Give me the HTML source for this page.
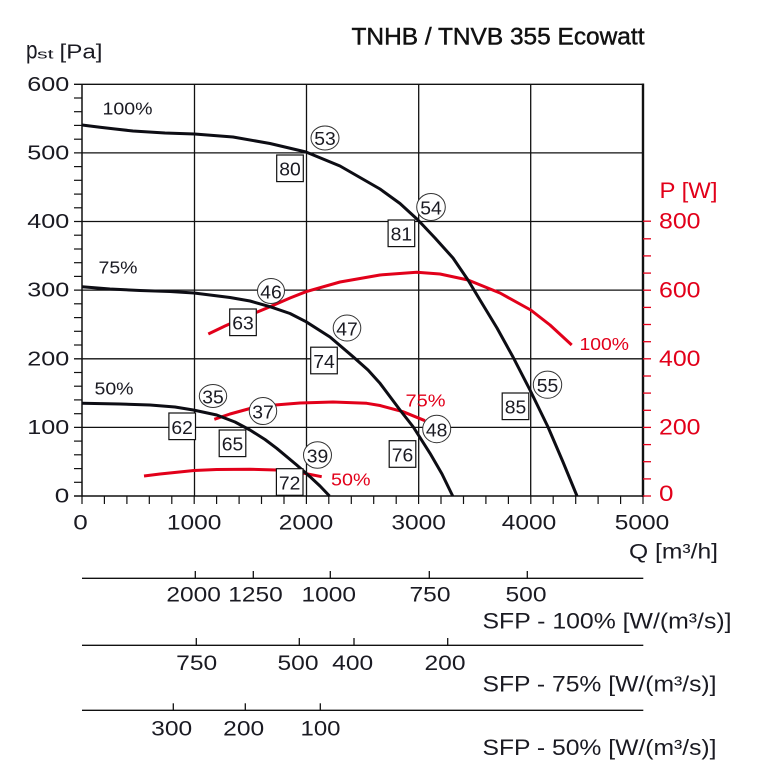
<!DOCTYPE html>
<html><head><meta charset="utf-8"><style>
html,body{margin:0;padding:0;background:#fff;}
svg{display:block;font-family:"Liberation Sans",Arial,sans-serif;}
</style></head><body>
<svg width="757" height="783" viewBox="0 0 757 783" xmlns="http://www.w3.org/2000/svg">
<rect width="757" height="783" fill="#fff"/>
<!-- grid -->
<g stroke="#111" stroke-width="1.3" fill="none">
<line x1="74" y1="84.3" x2="643" y2="84.3"/>
<line x1="74" y1="152.9" x2="643" y2="152.9"/>
<line x1="74" y1="221.5" x2="643" y2="221.5"/>
<line x1="74" y1="290.1" x2="643" y2="290.1"/>
<line x1="74" y1="358.8" x2="643" y2="358.8"/>
<line x1="74" y1="427.4" x2="643" y2="427.4"/>
<line x1="194.5" y1="84.3" x2="194.5" y2="496"/>
<line x1="306.5" y1="84.3" x2="306.5" y2="496"/>
<line x1="418.7" y1="84.3" x2="418.7" y2="496"/>
<line x1="530.7" y1="84.3" x2="530.7" y2="496"/>
<line x1="82" y1="84" x2="82" y2="496.7" stroke-width="1.5"/>
<line x1="74" y1="496" x2="643" y2="496" stroke-width="1.5"/>
</g>
<line x1="643" y1="83.5" x2="643" y2="497" stroke="#111" stroke-width="2.4"/>
<!-- left minor ticks -->
<g stroke="#111" stroke-width="1.2">
<line x1="74" y1="98" x2="82" y2="98"/><line x1="74" y1="111.7" x2="82" y2="111.7"/><line x1="74" y1="125.4" x2="82" y2="125.4"/><line x1="74" y1="139.2" x2="82" y2="139.2"/>
<line x1="74" y1="166.6" x2="82" y2="166.6"/><line x1="74" y1="180.3" x2="82" y2="180.3"/><line x1="74" y1="194.1" x2="82" y2="194.1"/><line x1="74" y1="207.8" x2="82" y2="207.8"/>
<line x1="74" y1="235.2" x2="82" y2="235.2"/><line x1="74" y1="249" x2="82" y2="249"/><line x1="74" y1="262.7" x2="82" y2="262.7"/><line x1="74" y1="276.4" x2="82" y2="276.4"/>
<line x1="74" y1="303.8" x2="82" y2="303.8"/><line x1="74" y1="317.6" x2="82" y2="317.6"/><line x1="74" y1="331.3" x2="82" y2="331.3"/><line x1="74" y1="345" x2="82" y2="345"/>
<line x1="74" y1="372.5" x2="82" y2="372.5"/><line x1="74" y1="386.2" x2="82" y2="386.2"/><line x1="74" y1="399.9" x2="82" y2="399.9"/><line x1="74" y1="413.7" x2="82" y2="413.7"/>
<line x1="74" y1="441.1" x2="82" y2="441.1"/><line x1="74" y1="454.8" x2="82" y2="454.8"/><line x1="74" y1="468.6" x2="82" y2="468.6"/><line x1="74" y1="482.3" x2="82" y2="482.3"/>
</g>
<!-- bottom ticks -->
<g stroke="#111" stroke-width="1.2">
<line x1="82" y1="496" x2="82" y2="504"/><line x1="104.4" y1="496" x2="104.4" y2="504"/><line x1="126.9" y1="496" x2="126.9" y2="504"/><line x1="149.3" y1="496" x2="149.3" y2="504"/><line x1="171.8" y1="496" x2="171.8" y2="504"/>
<line x1="194.2" y1="496" x2="194.2" y2="504"/><line x1="216.6" y1="496" x2="216.6" y2="504"/><line x1="239.1" y1="496" x2="239.1" y2="504"/><line x1="261.5" y1="496" x2="261.5" y2="504"/><line x1="284" y1="496" x2="284" y2="504"/>
<line x1="306.4" y1="496" x2="306.4" y2="504"/><line x1="328.8" y1="496" x2="328.8" y2="504"/><line x1="351.3" y1="496" x2="351.3" y2="504"/><line x1="373.7" y1="496" x2="373.7" y2="504"/><line x1="396.2" y1="496" x2="396.2" y2="504"/>
<line x1="418.6" y1="496" x2="418.6" y2="504"/><line x1="441" y1="496" x2="441" y2="504"/><line x1="463.5" y1="496" x2="463.5" y2="504"/><line x1="485.9" y1="496" x2="485.9" y2="504"/><line x1="508.4" y1="496" x2="508.4" y2="504"/>
<line x1="530.8" y1="496" x2="530.8" y2="504"/><line x1="553.2" y1="496" x2="553.2" y2="504"/><line x1="575.7" y1="496" x2="575.7" y2="504"/><line x1="598.1" y1="496" x2="598.1" y2="504"/><line x1="620.6" y1="496" x2="620.6" y2="504"/>
<line x1="643" y1="496" x2="643" y2="504"/>
</g>
<!-- red right ticks -->
<g stroke="#e2001a" stroke-width="1.3">
<line x1="643" y1="496" x2="651" y2="496"/><line x1="643" y1="478.9" x2="651" y2="478.9"/><line x1="643" y1="461.7" x2="651" y2="461.7"/><line x1="643" y1="444.6" x2="651" y2="444.6"/>
<line x1="643" y1="427.4" x2="651" y2="427.4"/><line x1="643" y1="410.3" x2="651" y2="410.3"/><line x1="643" y1="393.1" x2="651" y2="393.1"/><line x1="643" y1="376" x2="651" y2="376"/>
<line x1="643" y1="358.8" x2="651" y2="358.8"/><line x1="643" y1="341.7" x2="651" y2="341.7"/><line x1="643" y1="324.5" x2="651" y2="324.5"/><line x1="643" y1="307.4" x2="651" y2="307.4"/>
<line x1="643" y1="290.2" x2="651" y2="290.2"/><line x1="643" y1="273.1" x2="651" y2="273.1"/><line x1="643" y1="255.9" x2="651" y2="255.9"/><line x1="643" y1="238.8" x2="651" y2="238.8"/>
<line x1="643" y1="221.2" x2="651" y2="221.2"/>
</g>
<!-- curves -->
<g fill="none" stroke-linejoin="round" stroke-linecap="butt" stroke-width="3">
<polyline stroke="#e2001a" points="208.3,334 225,326 243,318 270,306.7 290,298 306,291.7 340,282 380,275 416.7,272.3 440,274 468,280 500,293 530.7,310 550,325 571.7,345"/>
<polyline stroke="#e2001a" points="214.3,419.3 230,414 250,408.5 275,405 300,403 333,402 366.7,403.3 380,405.5 403,411.7 425,420.7"/>
<polyline stroke="#e2001a" points="144,476 160,474 194,470.5 216.7,469.5 250,469.3 276.7,470 300,472.5 321.7,476.7"/>
<polyline stroke="#0d0d14" points="82,125 100,127.3 133,131 165,133 194.5,134 233,137 270,143.5 306,152 340,166 380,189 400,203.5 418,220 435,238 453,258 468,280 480,300 497,328 513,357 530,390 548,427 563,462 577,496"/>
<polyline stroke="#0d0d14" points="82,286.7 110,289 140,290.5 170,291.5 194,293 230,297.5 250,301 270,306.7 290,313.5 306,321.7 330,337 353,356.7 368,370 380,383.3 400,410 413.3,427 430,453.3 442,474 452.7,496"/>
<polyline stroke="#0d0d14" points="82,403.3 120,404 150,405 175,407 193.3,410 216.7,415 235,422 250,430 265,439.5 276.7,448.3 296.7,465 310,476.7 320,486 329.5,496"/>
</g>
<!-- boxes -->
<g fill="#fff" stroke="#111" stroke-width="1.2">
<rect x="276.7" y="155" width="26.6" height="26.6"/>
<rect x="388.1" y="220" width="26.6" height="26.6"/>
<rect x="229.7" y="309" width="26.6" height="26.6"/>
<rect x="310.7" y="347.2" width="26.6" height="26.6"/>
<rect x="168.9" y="413" width="26.6" height="26.6"/>
<rect x="219.2" y="430" width="26.6" height="26.6"/>
<rect x="276.4" y="468.7" width="26.6" height="26.6"/>
<rect x="389.2" y="440.7" width="26.6" height="26.6"/>
<rect x="502.2" y="393" width="26.6" height="26.6"/>
</g>
<!-- circles -->
<g fill="#fff" stroke="#333" stroke-width="1">
<ellipse cx="325" cy="138" rx="14" ry="12"/>
<ellipse cx="431" cy="207" rx="14.3" ry="13.5"/>
<ellipse cx="271" cy="291" rx="13.5" ry="12.5"/>
<ellipse cx="347" cy="328" rx="13.8" ry="13"/>
<ellipse cx="213" cy="396" rx="13.7" ry="11.5"/>
<ellipse cx="263" cy="411" rx="13.7" ry="13.5"/>
<ellipse cx="317.5" cy="455" rx="14" ry="13.3"/>
<ellipse cx="436.7" cy="429" rx="14" ry="13.7"/>
<ellipse cx="547.5" cy="384.7" rx="14.2" ry="13.6"/>
</g>
<!-- numbers in markers -->
<g fill="#1a1a22" font-size="18.5" text-anchor="middle">
<text x="325" y="145" textLength="21.5" lengthAdjust="spacingAndGlyphs">53</text>
<text x="431" y="214.3" textLength="21.5" lengthAdjust="spacingAndGlyphs">54</text>
<text x="271" y="298.3" textLength="21.5" lengthAdjust="spacingAndGlyphs">46</text>
<text x="347" y="335.3" textLength="21.5" lengthAdjust="spacingAndGlyphs">47</text>
<text x="213" y="403.3" textLength="21.5" lengthAdjust="spacingAndGlyphs">35</text>
<text x="263" y="418.3" textLength="21.5" lengthAdjust="spacingAndGlyphs">37</text>
<text x="317.5" y="462.3" textLength="21.5" lengthAdjust="spacingAndGlyphs">39</text>
<text x="436.7" y="436.3" textLength="21.5" lengthAdjust="spacingAndGlyphs">48</text>
<text x="547.5" y="392" textLength="21.5" lengthAdjust="spacingAndGlyphs">55</text>
<text x="290" y="175.6" textLength="21.5" lengthAdjust="spacingAndGlyphs">80</text>
<text x="401.4" y="240.6" textLength="21.5" lengthAdjust="spacingAndGlyphs">81</text>
<text x="243" y="329.6" textLength="21.5" lengthAdjust="spacingAndGlyphs">63</text>
<text x="324" y="367.8" textLength="21.5" lengthAdjust="spacingAndGlyphs">74</text>
<text x="182.2" y="434" textLength="21.5" lengthAdjust="spacingAndGlyphs">62</text>
<text x="232.5" y="450.7" textLength="21.5" lengthAdjust="spacingAndGlyphs">65</text>
<text x="289.7" y="489.3" textLength="21.5" lengthAdjust="spacingAndGlyphs">72</text>
<text x="402.5" y="461.3" textLength="21.5" lengthAdjust="spacingAndGlyphs">76</text>
<text x="515.5" y="413.6" textLength="21.5" lengthAdjust="spacingAndGlyphs">85</text>
</g>
<!-- title -->
<text x="351.5" y="44.3" font-size="24" fill="#111" stroke="#111" stroke-width="0.45" textLength="293" lengthAdjust="spacingAndGlyphs">TNHB / TNVB 355 Ecowatt</text>
<!-- y axis label -->
<g fill="#1a1a22">
<text x="26" y="58.3" font-size="25" textLength="11.5" lengthAdjust="spacingAndGlyphs">p</text>
<text x="37" y="58.3" font-size="13" textLength="16.5" lengthAdjust="spacingAndGlyphs">st</text>
<text x="59.5" y="58.3" font-size="20" textLength="43" lengthAdjust="spacingAndGlyphs">[Pa]</text>
</g>
<!-- left tick labels -->
<g fill="#1a1a22" font-size="20.5" text-anchor="end">
<text x="69.3" y="90.8" textLength="42" lengthAdjust="spacingAndGlyphs">600</text>
<text x="69.3" y="159.4" textLength="42" lengthAdjust="spacingAndGlyphs">500</text>
<text x="69.3" y="228" textLength="42" lengthAdjust="spacingAndGlyphs">400</text>
<text x="69.3" y="296.7" textLength="42" lengthAdjust="spacingAndGlyphs">300</text>
<text x="69.3" y="365.3" textLength="42" lengthAdjust="spacingAndGlyphs">200</text>
<text x="69.3" y="434" textLength="42" lengthAdjust="spacingAndGlyphs">100</text>
<text x="69.3" y="502.7" textLength="14.5" lengthAdjust="spacingAndGlyphs">0</text>
</g>
<!-- bottom tick labels -->
<g fill="#1a1a22" font-size="21.5" text-anchor="middle">
<text x="80.5" y="529.5" textLength="14.5" lengthAdjust="spacingAndGlyphs">0</text>
<text x="194.2" y="529.5" textLength="54.5" lengthAdjust="spacingAndGlyphs">1000</text>
<text x="306" y="529.5" textLength="54.5" lengthAdjust="spacingAndGlyphs">2000</text>
<text x="418.7" y="529.5" textLength="54.5" lengthAdjust="spacingAndGlyphs">3000</text>
<text x="529" y="529.5" textLength="54.5" lengthAdjust="spacingAndGlyphs">4000</text>
<text x="642" y="529.5" textLength="54.5" lengthAdjust="spacingAndGlyphs">5000</text>
</g>
<text x="629" y="558.3" font-size="21" fill="#1a1a22" textLength="89" lengthAdjust="spacingAndGlyphs">Q [m³/h]</text>
<!-- right red labels -->
<g fill="#e2001a" font-size="22">
<text x="659.5" y="198" textLength="58" lengthAdjust="spacingAndGlyphs">P [W]</text>
<text x="659" y="228.3" textLength="41.5" lengthAdjust="spacingAndGlyphs">800</text>
<text x="659" y="297.3" textLength="41.5" lengthAdjust="spacingAndGlyphs">600</text>
<text x="659" y="366" textLength="41.5" lengthAdjust="spacingAndGlyphs">400</text>
<text x="659" y="434.5" textLength="41.5" lengthAdjust="spacingAndGlyphs">200</text>
<text x="659" y="501" textLength="14.5" lengthAdjust="spacingAndGlyphs">0</text>
</g>
<!-- percent labels -->
<g fill="#1a1a22" font-size="17.5">
<text x="102.5" y="114.3" textLength="50" lengthAdjust="spacingAndGlyphs">100%</text>
<text x="98.5" y="273.3" textLength="39" lengthAdjust="spacingAndGlyphs">75%</text>
<text x="94.5" y="394.3" textLength="39" lengthAdjust="spacingAndGlyphs">50%</text>
</g>
<g fill="#e2001a" font-size="17.5">
<text x="579.5" y="350" textLength="49.5" lengthAdjust="spacingAndGlyphs">100%</text>
<text x="405.5" y="406.7" textLength="40" lengthAdjust="spacingAndGlyphs">75%</text>
<text x="331" y="485.7" textLength="39.5" lengthAdjust="spacingAndGlyphs">50%</text>
</g>
<!-- SFP axes -->
<g stroke="#111" stroke-width="1.3">
<line x1="82" y1="578.3" x2="643.3" y2="578.3"/>
<line x1="195.3" y1="571" x2="195.3" y2="578.3"/><line x1="253.3" y1="571" x2="253.3" y2="578.3"/><line x1="330.3" y1="571" x2="330.3" y2="578.3"/><line x1="429.3" y1="571" x2="429.3" y2="578.3"/><line x1="527.3" y1="571" x2="527.3" y2="578.3"/>
<line x1="82" y1="645.3" x2="643.3" y2="645.3"/>
<line x1="196.3" y1="638" x2="196.3" y2="645.3"/><line x1="299.3" y1="638" x2="299.3" y2="645.3"/><line x1="354" y1="638" x2="354" y2="645.3"/><line x1="447.7" y1="638" x2="447.7" y2="645.3"/>
<line x1="82" y1="710.3" x2="643.3" y2="710.3"/>
<line x1="173.3" y1="703.3" x2="173.3" y2="710.3"/><line x1="245.3" y1="703.3" x2="245.3" y2="710.3"/><line x1="320.3" y1="703.3" x2="320.3" y2="710.3"/>
</g>
<g fill="#1a1a22" font-size="21.5" text-anchor="middle">
<text x="193.7" y="601.5" textLength="54.5" lengthAdjust="spacingAndGlyphs">2000</text>
<text x="255.5" y="601.5" textLength="54.5" lengthAdjust="spacingAndGlyphs">1250</text>
<text x="328.8" y="601.5" textLength="54.5" lengthAdjust="spacingAndGlyphs">1000</text>
<text x="430" y="601.5" textLength="41" lengthAdjust="spacingAndGlyphs">750</text>
<text x="526" y="601.5" textLength="41" lengthAdjust="spacingAndGlyphs">500</text>
<text x="196.7" y="670" textLength="41" lengthAdjust="spacingAndGlyphs">750</text>
<text x="298" y="670" textLength="41" lengthAdjust="spacingAndGlyphs">500</text>
<text x="352.7" y="670" textLength="41" lengthAdjust="spacingAndGlyphs">400</text>
<text x="445" y="670" textLength="41" lengthAdjust="spacingAndGlyphs">200</text>
<text x="171.7" y="735.7" textLength="41" lengthAdjust="spacingAndGlyphs">300</text>
<text x="243.7" y="735.7" textLength="41" lengthAdjust="spacingAndGlyphs">200</text>
<text x="320.5" y="735.7" textLength="40" lengthAdjust="spacingAndGlyphs">100</text>
</g>
<g fill="#1a1a22" font-size="22">
<text x="482.5" y="628.3" textLength="249" lengthAdjust="spacingAndGlyphs">SFP - 100% [W/(m³/s)]</text>
<text x="482.5" y="691.7" textLength="234" lengthAdjust="spacingAndGlyphs">SFP - 75% [W/(m³/s)]</text>
<text x="482.5" y="755" textLength="234" lengthAdjust="spacingAndGlyphs">SFP - 50% [W/(m³/s)]</text>
</g>
</svg>
</body></html>
